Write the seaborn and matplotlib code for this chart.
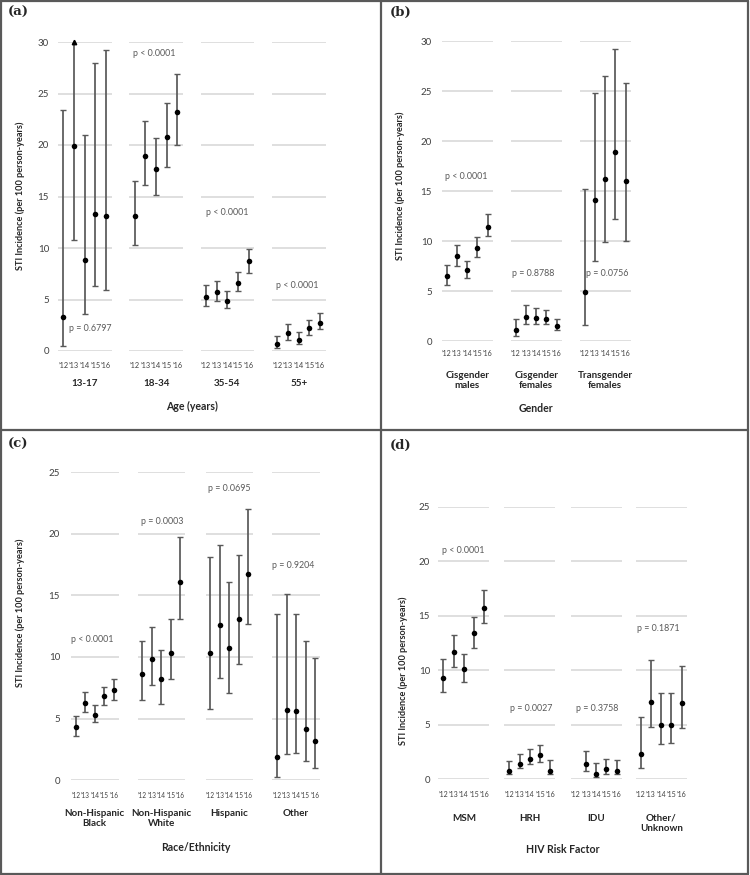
import numpy as np
import matplotlib
matplotlib.use("Agg")
import matplotlib.pyplot as plt
from matplotlib import font_manager as fm
import seaborn as sns

# STI incidence (per 100 person-years) by year, 2012-2016
years = ["’12", "’13", "’14", "’15", "’16"]

age_groups = ["13-17", "18-34", "35-54", "55+"]
age_est = [[3.3, 19.9, 8.8, 13.3, 13.1],
           [13.1, 18.9, 17.7, 20.8, 23.2],
           [5.2, 5.7, 4.9, 6.6, 8.7],
           [0.7, 1.7, 1.1, 2.2, 2.7]]
age_lo = [[0.5, 10.8, 3.6, 6.3, 5.9],
          [10.3, 16.1, 15.1, 17.9, 20.0],
          [4.4, 4.9, 4.2, 5.8, 7.6],
          [0.3, 1.1, 0.7, 1.6, 2.1]]
age_hi = [[23.4, 30.0, 21.0, 28.0, 29.2],
          [16.5, 22.3, 20.7, 24.1, 26.9],
          [6.4, 6.8, 5.8, 7.7, 9.9],
          [1.5, 2.6, 1.8, 3.0, 3.7]]
age_p = ["p = 0.6797", "p < 0.0001", "p < 0.0001", "p < 0.0001"]

gender_groups = ["Cisgender\nmales", "Cisgender\nfemales", "Transgender\nfemales"]
gender_est = [[6.5, 8.5, 7.1, 9.3, 11.4],
              [1.1, 2.4, 2.3, 2.2, 1.5],
              [4.9, 14.1, 16.2, 18.9, 16.0]]
gender_lo = [[5.6, 7.5, 6.3, 8.4, 10.5],
             [0.5, 1.7, 1.7, 1.7, 1.1],
             [1.6, 8.0, 9.9, 12.2, 10.0]]
gender_hi = [[7.6, 9.6, 8.0, 10.4, 12.7],
             [2.2, 3.6, 3.3, 3.1, 2.2],
             [15.2, 24.8, 26.5, 29.2, 25.8]]
gender_p = ["p < 0.0001", "p = 0.8788", "p = 0.0756"]

race_groups = ["Non-Hispanic\nBlack", "Non-Hispanic\nWhite", "Hispanic", "Other"]
race_est = [[4.3, 6.3, 5.3, 6.8, 7.3],
            [8.6, 9.8, 8.2, 10.3, 16.1],
            [10.3, 12.6, 10.7, 13.1, 16.7],
            [1.9, 5.7, 5.6, 4.2, 3.2]]
race_lo = [[3.6, 5.5, 4.7, 6.1, 6.5],
           [6.5, 7.7, 6.2, 8.2, 13.1],
           [5.8, 8.3, 7.1, 9.4, 12.7],
           [0.3, 2.1, 2.2, 1.6, 1.0]]
race_hi = [[5.2, 7.2, 6.1, 7.6, 8.2],
           [11.3, 12.4, 10.6, 13.1, 19.7],
           [18.1, 19.1, 16.1, 18.3, 22.0],
           [13.5, 15.1, 13.5, 11.3, 9.9]]
race_p = ["p < 0.0001", "p = 0.0003", "p = 0.0695", "p = 0.9204"]

risk_groups = ["MSM", "HRH", "IDU", "Other/\nUnknown"]
risk_est = [[9.3, 11.7, 10.1, 13.4, 15.7],
            [0.8, 1.4, 1.9, 2.2, 0.8],
            [np.nan, 1.4, 0.5, 0.9, 0.8],
            [2.3, 7.1, 5.0, 5.0, 7.0]]
risk_lo = [[8.0, 10.3, 8.9, 12.0, 14.3],
           [0.5, 1.0, 1.4, 1.6, 0.5],
           [np.nan, 0.8, 0.2, 0.5, 0.5],
           [1.0, 4.8, 3.2, 3.3, 4.7]]
risk_hi = [[11.0, 13.2, 11.5, 14.9, 17.4],
           [1.7, 2.3, 2.8, 3.1, 1.8],
           [np.nan, 2.6, 1.5, 1.9, 1.8],
           [5.7, 10.9, 7.9, 7.9, 10.4]]
risk_p = ["p < 0.0001", "p = 0.0027", "p = 0.3758", "p = 0.1871"]

# layout, in pixels of the 750x875 picture
W, H = 750, 875
panels = [
    dict(tag="(a)", tag_xy=(8, 12.5), title="Age (years)",
         groups=age_groups, est=age_est, lo=age_lo, hi=age_hi, pv=age_p,
         starts=[58, 129.3, 200.6, 272], width=53.5, zero=351, top=42, ymax=30,
         xtick_y=366, cat_top=379.5, title_y=406, ylab=(20, 196), ytick_right=49,
         p_xy=[(2.5, 2.2), (1.8, 28.9), (2.0, 13.4), (1.9, 6.4)]),
    dict(tag="(b)", tag_xy=(390, 12.5), title="Gender",
         groups=gender_groups, est=gender_est, lo=gender_lo, hi=gender_hi, pv=gender_p,
         starts=[441.7, 510.7, 579.7], width=51, zero=341.3, top=41.3, ymax=30,
         xtick_y=354, cat_top=370.5, title_y=408, ylab=(400, 186), ytick_right=432,
         p_xy=[(1.9, 16.5), (1.7, 6.8), (2.25, 6.8)]),
    dict(tag="(c)", tag_xy=(8, 444), title="Race/Ethnicity",
         groups=race_groups, est=race_est, lo=race_lo, hi=race_hi, pv=race_p,
         starts=[71, 137.7, 205.7, 272.3], width=47.5, zero=780.3, top=472, ymax=25,
         xtick_y=796, cat_top=808.5, title_y=847.7, ylab=(20, 613), ytick_right=60,
         p_xy=[(1.75, 11.4), (2.05, 21.0), (1.95, 23.7), (1.75, 17.4)]),
    dict(tag="(d)", tag_xy=(390, 445), title="HIV Risk Factor",
         groups=risk_groups, est=risk_est, lo=risk_lo, hi=risk_hi, pv=risk_p,
         starts=[438.3, 504.3, 570.7, 635.7], width=51, zero=779.3, top=506.7, ymax=25,
         xtick_y=795.7, cat_top=813.8, title_y=849.3, ylab=(403, 671), ytick_right=430,
         p_xy=[(1.9, 21.0), (2.1, 6.45), (2.1, 6.45), (1.7, 13.8)]),
]


def weight_of(f):
    w = f.weight
    if isinstance(w, str):
        w = fm.weight_dict.get(w, 400)
    return w


def has_bold(name):
    return any(f.name == name and 600 <= weight_of(f) <= 800
               for f in fm.fontManager.ttflist)


sans = next((n for n in ["Lato", "Roboto", "Noto Sans", "Open Sans", "Liberation Sans"]
             if has_bold(n)), "DejaVu Sans")

sns.set_theme(style="white")
plt.rcParams["font.family"] = [sans, "DejaVu Sans"]

fig = plt.figure(figsize=(7.5, 8.75), dpi=100)
renderer = fig.canvas.get_renderer()
PT = 0.72  # points per pixel at dpi 100
BAR = "#595959"
TXT = "#404040"


def fx(x):
    return x / W


def fy(y):
    return 1 - y / H


def fit_years(ax, step_px):
    # largest label size at which the year labels do not run into each other
    size = 6.4
    while size > 4.2:
        ax.tick_params(axis="x", labelsize=size)
        widest = max(t.get_window_extent(renderer).width for t in ax.get_xticklabels())
        if widest <= step_px - 0.4:
            break
        size -= 0.1


xs = np.arange(len(years))
for p in panels:
    for i, name in enumerate(p["groups"]):
        x0 = p["starts"][i]
        ax = fig.add_axes([fx(x0), fy(p["zero"]), p["width"] / W,
                           (p["zero"] - p["top"]) / H])
        est = np.array(p["est"][i], dtype=float)
        lo = np.array(p["lo"][i], dtype=float)
        hi = np.array(p["hi"][i], dtype=float)

        ax.set_xlim(-0.5, 4.5)
        ax.set_ylim(0, p["ymax"])
        ax.set_yticks(np.arange(0, p["ymax"] + 1, 5))
        ax.grid(axis="y", color="#d9d9d9", lw=1.2)
        ax.set_axisbelow(True)
        sns.despine(ax=ax, left=True, bottom=True)

        ok = ~np.isnan(est)
        open_top = ok & (hi >= p["ymax"])
        shut = ok & ~open_top
        ax.errorbar(xs[shut], est[shut], yerr=[est[shut] - lo[shut], hi[shut] - est[shut]],
                    fmt="none", ecolor=BAR, elinewidth=1.25, capsize=2.2, capthick=1.0,
                    clip_on=False, zorder=2)
        if open_top.any():
            ax.vlines(xs[open_top], lo[open_top], hi[open_top], color=BAR, lw=1.25,
                      clip_on=False, zorder=2)
            ax.plot(xs[open_top], lo[open_top], ls="none", marker="_", ms=4.4,
                    mew=1.0, color=BAR, clip_on=False)
            ax.plot(xs[open_top], hi[open_top], ls="none", marker="^", ms=3.2,
                    color="black", clip_on=False, zorder=3)

        sns.scatterplot(x=xs[ok], y=est[ok], ax=ax, color="black", s=16,
                        linewidth=0, zorder=4, clip_on=False, legend=False)

        ax.set_xticks(xs, years)
        ax.tick_params(axis="x", length=0, labelcolor=TXT,
                       pad=(p["xtick_y"] - p["zero"] - 4.5) * PT)
        fit_years(ax, p["width"] / len(years))
        if i == 0:
            ax.tick_params(axis="y", length=0, labelsize=7, labelcolor=TXT,
                           pad=(x0 - p["ytick_right"]) * PT)
        else:
            ax.tick_params(axis="y", length=0, labelleft=False)
        ax.set_xlabel("")
        ax.set_ylabel("")

        px, py = p["p_xy"][i]
        ax.text(px, py, p["pv"][i], ha="center", va="center", fontsize=6.4,
                color=BAR)

        fig.text(fx(x0 + p["width"] / 2), fy(p["cat_top"]), name, ha="center",
                 va="top", fontsize=7.1, weight="bold", linespacing=1.15)

    mid = (p["starts"][0] + p["starts"][-1] + p["width"]) / 2
    fig.text(fx(mid), fy(p["title_y"]), p["title"], ha="center", va="center",
             fontsize=7.6, weight="bold")
    fig.text(fx(p["ylab"][0]), fy(p["ylab"][1]), "STI Incidence (per 100 person-years)",
             rotation=90, ha="center", va="center", fontsize=6.6, weight="bold")
    fig.text(fx(p["tag_xy"][0]), fy(p["tag_xy"][1]), p["tag"], ha="left", va="center",
             fontsize=9.5, weight="bold", family="DejaVu Serif")

# panel frames
frame = dict(color="#595959", lw=1.6, transform=fig.transFigure)
for xa, ya, xb, yb in [(1, 1, 748, 1), (1, 874, 748, 874), (1, 1, 1, 874),
                       (748, 1, 748, 874), (381, 1, 381, 874), (1, 430, 748, 430)]:
    fig.add_artist(plt.Line2D([fx(xa), fx(xb)], [fy(ya), fy(yb)], **frame))

fig.savefig("out.png", dpi=100)
